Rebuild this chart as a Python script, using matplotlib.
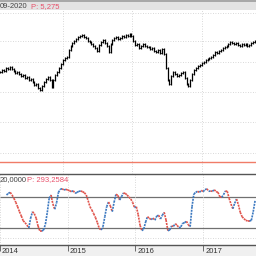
import matplotlib
matplotlib.use("Agg")
import matplotlib.pyplot as plt
import matplotlib.dates as mdates
import matplotlib.transforms as mtrans
from matplotlib.collections import LineCollection
from matplotlib.patches import Rectangle
import numpy as np
import pandas as pd

plt.rcParams['font.family'] = ['Liberation Sans', 'DejaVu Sans']

# ---- data ----
closes = [4.675, 4.715, 4.695, 4.755, 4.735, 4.775,
          4.735, 4.695, 4.655, 4.675, 4.635,
          4.595, 4.615, 4.555, 4.575, 4.515,
          4.535, 4.475, 4.415, 4.435, 4.355, 4.315,
          4.395, 4.475, 4.535, 4.575, 4.515,
          4.375, 4.515, 4.615, 4.675, 4.755,
          4.835, 4.915, 4.955, 4.975, 5.115,
          5.195, 5.255, 5.295, 5.335, 5.375, 5.395,
          5.415, 5.375, 5.355, 5.295, 5.275,
          5.235, 5.195, 5.155, 5.095, 5.215,
          5.275, 5.315, 5.255, 5.195, 5.075,
          5.235, 5.315, 5.355, 5.375, 5.335,
          5.355, 5.395, 5.375, 5.415, 5.395, 5.435,
          5.395, 5.295, 5.215, 5.235, 5.155,
          5.195, 5.235, 5.195, 5.175, 5.175,
          5.135, 5.155, 5.095, 5.075, 5.115, 5.055,
          5.135, 5.035, 4.755, 4.515, 4.435,
          4.595, 4.675, 4.635, 4.595, 4.615,
          4.655, 4.675, 4.555, 4.435, 4.395, 4.515,
          4.635, 4.715, 4.755, 4.795, 4.815,
          4.855, 4.875, 4.915, 4.935, 4.955,
          4.975, 5.015, 5.075, 5.055, 5.095,
          5.115, 5.155, 5.175, 5.195, 5.235,
          5.275, 5.255, 5.235, 5.255, 5.215, 5.195,
          5.235, 5.215, 5.235, 5.195, 5.215,
          5.255, 5.275, 5.295]

oscillator = [83.9, 87.0, 89.0, 84.0, 77.5, 69.7, 61.2, 51.5, 43.2, 34.1,
              30.3, 25.8, 20.0, 38.8, 51.5, 47.7, 38.8, 23.9, 14.2, 14.2,
              16.1, 27.7, 50.4, 77.5, 83.9, 66.4, 56.2, 69.0, 89.0, 94.9,
              96.0, 93.5, 94.9, 93.5, 92.2, 90.3, 92.2, 87.0, 89.0, 91.0,
              91.6, 90.3, 88.3, 83.9, 72.9, 61.2, 54.8, 47.7, 40.0, 30.3,
              19.4, 16.1, 22.5, 41.9, 61.2, 70.3, 62.6, 51.5, 69.7, 85.2,
              83.2, 74.2, 80.6, 87.7, 87.0, 83.9, 80.0, 76.1,
              69.7, 59.3, 61.2, 45.8, 25.2, 14.8, 18.1, 31.6, 41.9, 38.8,
              36.1, 39.4, 34.9, 43.2, 44.6, 37.4, 44.6, 50.4, 35.5, 14.8,
              16.1, 23.9, 23.3, 28.4, 25.2, 20.0, 22.5, 29.1, 30.3, 33.0,
              26.4, 22.5, 61.2, 85.8, 89.0, 91.0, 89.0, 92.9, 90.3, 94.1,
              96.0, 91.0, 91.6, 91.0, 94.1, 90.3, 89.0, 80.6, 79.4, 84.5,
              91.6, 91.0, 77.5, 66.4, 57.4, 67.8, 76.1, 65.1, 50.4, 41.9,
              38.0, 34.9, 33.5, 33.5, 34.9, 51.5, 72.9]

level_line = 2.875
osc_levels = [80, 20]
year_labels = ['2014', '2015', '2016', '2017']
header_main = ('09-2020', 'P: 5,275')
header_ind = ('20,0000', 'P: 293,2584')

dates = pd.date_range('2014-02-05', periods=len(closes), freq='10D')
dn = mdates.date2num(dates.to_pydatetime())

W = H = 256
fig = plt.figure(figsize=(2.56, 2.56), dpi=100)
fig.patch.set_facecolor('white')

def fy(y):
    return 1 - y / H

# header / footer bands
for (x0, y0, w, h, c) in [(0, fy(10), 1, 10 / H, '#e3e3e3'),
                          (0, fy(2), 1, 2 / H, '#a8a8a8'),
                          (0, 0, 1, 11 / H, '#f0f0f0')]:
    fig.patches.append(Rectangle((x0, y0), w, h, transform=fig.transFigure,
                                 facecolor=c, edgecolor='none', zorder=-10))

xlim = (mdates.date2num(pd.Timestamp('2014-02-04')), mdates.date2num(pd.Timestamp('2017-10-12')))
year_ticks = [mdates.date2num(pd.Timestamp(f'{y}-01-01')) for y in year_labels]

# main panel
ax = fig.add_axes([0, fy(174), 1, (174 - 10) / H])
ax.set_xlim(*xlim)
ax.set_ylim(6.115 - 0.02 * 174, 6.115 - 0.02 * 10)
opens = [closes[0]] + closes[:-1]
highs = [max(o, c) for o, c in zip(opens, closes)]
lows = [min(o, c) for o, c in zip(opens, closes)]
ax.vlines(dn, np.array(lows) - 0.025, np.array(highs) + 0.025, color='black', lw=0.9)
ax.hlines(closes, dn, dn + 3.5, color='black', lw=0.7)
ax.hlines(opens, dn - 3.5, dn, color='black', lw=0.7)
ax.axhline(level_line, color='#f07c68', lw=1.0)
for gy in [5.855, 5.295, 4.875, 4.275, 3.675, 3.055]:
    ax.axhline(gy, color='#cccccc', lw=0.6, ls=(0, (1, 2)), zorder=0)
for t in year_ticks:
    ax.axvline(t, color='#cccccc', lw=0.6, ls=(0, (1, 2)), zorder=0)
ax.set_xticks([]); ax.set_yticks([])
for s in ax.spines.values():
    s.set_visible(False)
ax.patch.set_alpha(0)

# indicator panel
ax2 = fig.add_axes([0, fy(245), 1, (245 - 174) / H])
ax2.set_xlim(*xlim)
ax2.set_ylim(20 - 17 * 60 / 31, 20 + 54 * 60 / 31)
vals = np.array(oscillator)
pts = np.column_stack([dn, vals])
segs = np.stack([pts[:-1], pts[1:]], axis=1)
cols = ['#3b78c0' if b > a else '#e0524a' for a, b in zip(vals[:-1], vals[1:])]
lc = LineCollection(segs, colors=cols, linewidths=1.2, linestyles=(0, (1.2, 0.6)))
ax2.add_collection(lc)
for lv in osc_levels:
    ax2.axhline(lv, color='#707070', lw=0.9, zorder=0)
ax2.axhline(0, color='#cccccc', lw=0.6, ls=(0, (1, 2)), zorder=0)
for t in year_ticks:
    ax2.axvline(t, color='#cccccc', lw=0.6, ls=(0, (1, 2)), zorder=0)
ax2.set_yticks([])
ax2.set_xticks(year_ticks)
ax2.set_xticklabels([])
ax2.tick_params(axis='x', direction='out', length=4, width=0.6, color='#555555')
for k, s in ax2.spines.items():
    s.set_visible(k in ('top', 'bottom'))
    s.set_color('#555555'); s.set_linewidth(1.0)
ax2.patch.set_alpha(0)

# year labels (figure-level so nothing covers them)
blend = mtrans.blended_transform_factory(ax2.transData, fig.transFigure)
off = mtrans.ScaledTranslation(2 / 100, 0, fig.dpi_scale_trans)
for t, lab in zip(year_ticks, year_labels):
    fig.text(t, fy(251.5), lab, transform=blend + off, fontsize=5.5,
             color='#333333', ha='left', va='center')

# headers
fig.text(0 / W, fy(6.5), header_main[0], fontsize=5.5, color='#444444', va='center', ha='left')
fig.text(31 / W, fy(6.5), header_main[1], fontsize=5.5, color='#e8506a', va='center', ha='left')
fig.text(0 / W, fy(179.5), header_ind[0], fontsize=5.5, color='#444444', va='center', ha='left')
fig.text(27 / W, fy(179.5), header_ind[1], fontsize=5.5, color='#e8506a', va='center', ha='left')

fig.savefig('out.png', dpi=100)
